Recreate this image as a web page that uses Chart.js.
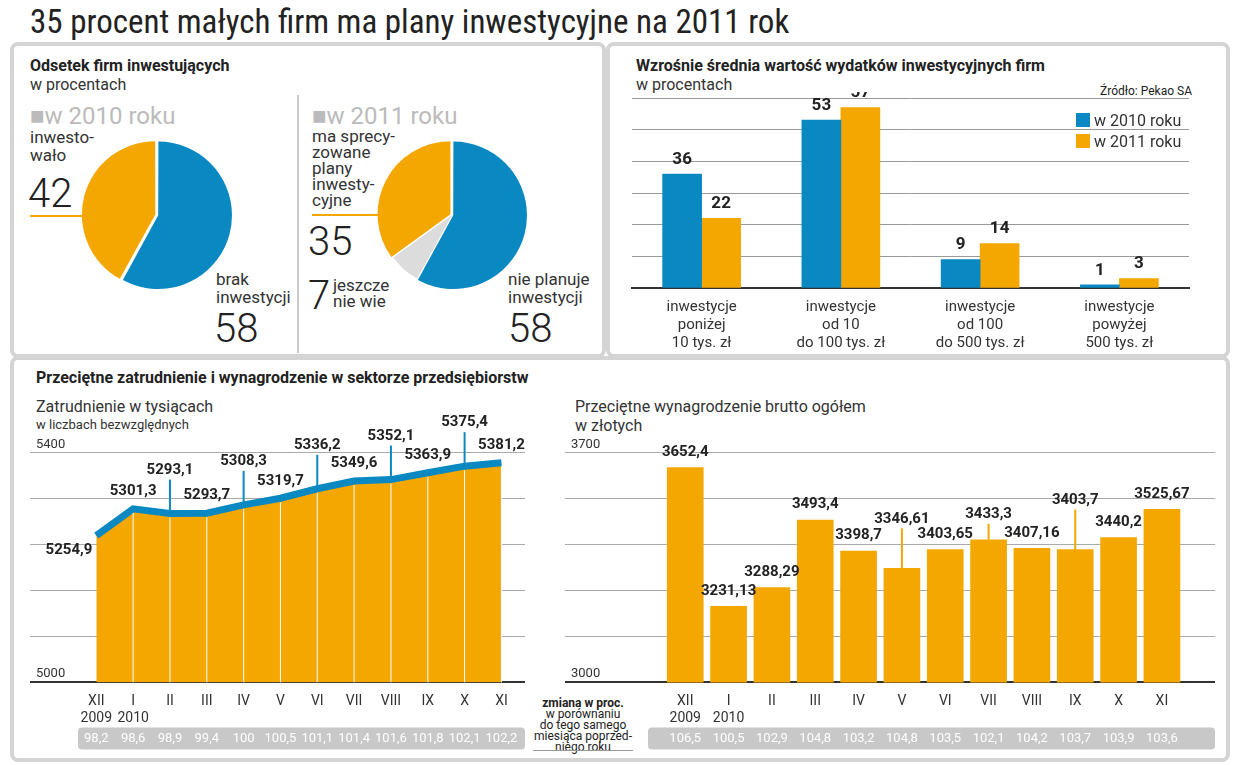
<!DOCTYPE html>
<html><head><meta charset="utf-8">
<script src="https://cdn.jsdelivr.net/npm/chart.js@4/dist/chart.umd.min.js"></script>
<style>
body{margin:0;width:1256px;height:765px;background:#fff;font-family:"Liberation Sans Narrow","DejaVu Sans Condensed","Roboto",sans-serif;color:#222;position:relative;overflow:hidden}
.a{position:absolute;white-space:nowrap}
.panel{position:absolute;border:4px solid #d4d4d4;border-radius:8px;box-sizing:border-box}
canvas{position:absolute}
.h{font-family:"Roboto","Liberation Sans",sans-serif;font-weight:bold;font-size:16px}
.s{font-family:"Roboto","Liberation Sans",sans-serif;font-size:16px;color:#333}
</style></head><body>
<div class="a" style="left:30px;top:2px;font-size:33px;font-family:'Roboto Condensed','Liberation Sans Narrow',sans-serif">35 procent małych firm ma plany inwestycyjne na 2011 rok</div>
<div class="panel" style="left:10px;top:42px;width:596px;height:316px"></div>
<div class="panel" style="left:606px;top:42px;width:624px;height:316px"></div>
<div class="panel" style="left:10px;top:356px;width:1220px;height:406px"></div>
<div style="position:absolute;left:297px;top:95px;width:2px;height:258px;background:#ccc"></div>

<div class="a h" style="left:30px;top:56px">Odsetek firm inwestujących</div>
<div class="a s" style="left:30px;top:75px">w procentach</div>
<div class="a" style="left:30px;top:102px;font-size:24px;color:#bbb;font-family:'Roboto',sans-serif">■w 2010 roku</div>
<div class="a" style="left:312px;top:102px;font-size:24px;color:#bbb;font-family:'Roboto',sans-serif">■w 2011 roku</div>
<div class="a s" style="left:30px;top:128px;font-size:17px;line-height:18px">inwesto-<br>wało</div>
<div class="a" style="left:28px;top:170px;font-size:40px;font-family:'Roboto',sans-serif;font-weight:300">42</div>
<div style="position:absolute;left:30px;top:215px;width:58px;height:2px;background:#f4a700"></div>
<div class="a s" style="left:216px;top:270px;font-size:17px;line-height:18px">brak<br>inwestycji</div>
<div class="a" style="left:214px;top:305px;font-size:40px;font-family:'Roboto',sans-serif;font-weight:300">58</div>
<div class="a s" style="left:312px;top:128px;font-size:17px;line-height:16px">ma sprecy-<br>zowane<br>plany<br>inwesty-<br>cyjne</div>
<div style="position:absolute;left:312px;top:214px;width:70px;height:2px;background:#f4a700"></div>
<div class="a" style="left:308px;top:218px;font-size:40px;font-family:'Roboto',sans-serif;font-weight:300">35</div>
<div class="a" style="left:308px;top:272px;font-size:40px;font-family:'Roboto',sans-serif;font-weight:300">7</div>
<div class="a s" style="left:333px;top:277px;font-size:17px;line-height:16px">jeszcze<br>nie wie</div>
<div class="a s" style="left:508px;top:270px;font-size:17px;line-height:18px">nie planuje<br>inwestycji</div>
<div class="a" style="left:508px;top:305px;font-size:40px;font-family:'Roboto',sans-serif;font-weight:300">58</div>

<div class="a h" style="left:636px;top:56px">Wzrośnie średnia wartość wydatków inwestycyjnych firm</div>
<div class="a s" style="left:636px;top:75px">w procentach</div>
<div class="a" style="left:1100px;top:84px;font-size:12px;font-family:'Roboto',sans-serif">Źródło: Pekao SA</div>

<div class="a h" style="left:36px;top:368px">Przeciętne zatrudnienie i wynagrodzenie w sektorze przedsiębiorstw</div>
<div class="a s" style="left:36px;top:397px">Zatrudnienie w tysiącach</div>
<div class="a s" style="left:36px;top:417px;font-size:13px">w liczbach bezwzględnych</div>
<div class="a s" style="left:575px;top:397px">Przeciętne wynagrodzenie brutto ogółem</div>
<div class="a s" style="left:575px;top:416px">w złotych</div>
<div class="a" style="left:527px;top:698px;width:112px;text-align:center;font-size:12px;line-height:11px;font-family:'Roboto',sans-serif"><b>zmiana w proc.</b><br>w porównaniu<br>do tego samego<br>miesiąca poprzed-<br>niego roku</div>
<div style="position:absolute;left:533px;top:750px;width:100px;height:1px;background:#999"></div>

<canvas id="p1" style="left:77px;top:135px;width:160px;height:160px" width="160" height="160"></canvas>
<canvas id="p2" style="left:372px;top:135px;width:160px;height:160px" width="160" height="160"></canvas>
<canvas id="b1" style="left:628px;top:92px;width:565px;height:262px" width="565" height="262"></canvas>
<div class="a s" style="left:1076px;top:111px"><span style="display:inline-block;width:14px;height:14px;background:#0a88c2;vertical-align:-1px"></span> w 2010 roku</div>
<div class="a s" style="left:1076px;top:132px"><span style="display:inline-block;width:14px;height:14px;background:#f4a700;vertical-align:-1px"></span> w 2011 roku</div>
<canvas id="l1" style="left:30px;top:400px;width:495px;height:360px" width="495" height="360"></canvas>
<canvas id="b2" style="left:565px;top:400px;width:650px;height:360px" width="650" height="360"></canvas>
<script>
const BLUE='#0a88c2',ORANGE='#f4a700',GREY='#dcdcdc';
const pie2010=[58,42];
const pie2011=[58,7,35];
const invCats=[['inwestycje','poniżej','10 tys. zł'],['inwestycje','od 10','do 100 tys. zł'],['inwestycje','od 100','do 500 tys. zł'],['inwestycje','powyżej','500 tys. zł']];
const inv2010=[36,53,9,1];
const inv2011=[22,57,14,3];
const months=[['XII','2009'],['I','2010'],['II'],['III'],['IV'],['V'],['VI'],['VII'],['VIII'],['IX'],['X'],['XI']];
const employment=[5254.9,5301.3,5293.1,5293.7,5308.3,5319.7,5336.2,5349.6,5352.1,5363.9,5375.4,5381.2];
const employmentChange=[98.2,98.6,98.9,99.4,100,100.5,101.1,101.4,101.6,101.8,102.1,102.2];
const wages=[3652.4,3231.13,3288.29,3493.4,3398.7,3346.61,3403.65,3433.3,3407.16,3403.7,3440.2,3525.67];
const wagesChange=[106.5,100.5,102.9,104.8,103.2,104.8,103.5,102.1,104.2,103.7,103.9,103.6];
Chart.defaults.animation=false;
Chart.defaults.responsive=false;
Chart.defaults.font.family="Roboto, 'Liberation Sans', sans-serif";
const fmt=v=>String(v).replace('.',',');

new Chart(p1,{type:'pie',data:{datasets:[{data:pie2010,backgroundColor:[BLUE,ORANGE],borderWidth:0,offset:[5,7]}]},options:{plugins:{legend:{display:false},tooltip:{enabled:false}},layout:{padding:4}}});
new Chart(p2,{type:'pie',data:{datasets:[{data:pie2011,backgroundColor:[BLUE,GREY,ORANGE],borderWidth:0,offset:[5,0,7]}]},options:{plugins:{legend:{display:false},tooltip:{enabled:false}},layout:{padding:4}}});

const barVals={id:'barVals',afterDatasetsDraw(c){const x=c.ctx;x.save();x.font='bold 17px Roboto, sans-serif';x.fillStyle='#222';x.textAlign='center';x.textBaseline='bottom';
 c.data.datasets.forEach((d,i)=>c.getDatasetMeta(i).data.forEach((e,j)=>x.fillText(d.data[j],e.x,e.y-6)));x.restore();}};
new Chart(b1,{type:'bar',data:{labels:invCats,datasets:[{data:inv2010,backgroundColor:BLUE},{data:inv2011,backgroundColor:ORANGE}]},
 options:{plugins:{legend:{display:false},tooltip:{enabled:false}},layout:{padding:{left:4,right:4,top:6}},
 datasets:{bar:{barThickness:39,categoryPercentage:0.69,barPercentage:0.95}},
 scales:{x:{grid:{display:false},border:{color:'#333',width:2},ticks:{color:'#333',font:{size:15},padding:2}},
 y:{min:0,max:60,ticks:{display:false,stepSize:10},grid:{color:'#999',drawTicks:false},border:{display:false}}}},plugins:[barVals]});

function bottomStrip(c,vals,x0){const x=c.ctx,a=c.chartArea,s=c.scales.x;x.save();x.fillStyle='#c8c8c8';
 const y=a.bottom+45;x.beginPath();x.roundRect(x0,y,a.right-x0,22,4);x.fill();
 x.fillStyle='#fff';x.font='13px Roboto, sans-serif';x.textAlign='center';x.textBaseline='middle';
 vals.forEach((v,i)=>x.fillText(fmt(v),s.getPixelForValue(i),y+11));x.restore();}
function yLabels(c,lo,hi){const x=c.ctx,a=c.chartArea;x.save();x.fillStyle='#333';x.font='13px Roboto, sans-serif';x.textAlign='left';x.textBaseline='bottom';
 x.fillText(hi,a.left+6,a.top-1);x.fillText(lo,a.left+6,a.bottom-2);x.restore();}

const lineDeco={id:'lineDeco',afterDatasetsDraw(c){const x=c.ctx,a=c.chartArea,m=c.getDatasetMeta(0).data;x.save();
 x.strokeStyle='#fff';x.lineWidth=1;m.forEach((p,i)=>{if(i>0){x.beginPath();x.moveTo(p.x,p.y+4);x.lineTo(p.x,a.bottom);x.stroke();}});
 x.font='bold 15px Roboto, sans-serif';x.fillStyle='#222';x.textAlign='center';x.textBaseline='bottom';
 m.forEach((p,i)=>{const t=fmt(employment[i]);
  if(i==0){x.textAlign='right';x.fillText(t,p.x-4,p.y+22);x.textAlign='center';}
  else if(i%2==0){x.strokeStyle=BLUE;x.lineWidth=2;x.beginPath();x.moveTo(p.x,p.y);x.lineTo(p.x,p.y-34);x.stroke();x.fillText(t,p.x,p.y-36);}
  else x.fillText(t,p.x,p.y-10);});
 yLabels(c,5000,5400);bottomStrip(c,employmentChange,48);x.restore();}};
new Chart(l1,{type:'line',data:{datasets:[{data:employment.map((v,i)=>({x:i,y:v})),borderColor:BLUE,borderWidth:7,backgroundColor:ORANGE,fill:'origin',pointRadius:0,tension:0}]},
 options:{plugins:{legend:{display:false},tooltip:{enabled:false}},layout:{padding:{top:52,bottom:30}},
 scales:{x:{type:'linear',min:-1.8,max:11.64,grid:{display:false},border:{color:'#333',width:2},
  afterBuildTicks:ax=>{ax.ticks=months.map((m,i)=>({value:i}));},ticks:{autoSkip:false,maxRotation:0,color:'#333',font:{size:14},callback:v=>months[v]}},
 y:{min:5000,max:5400,ticks:{display:false,stepSize:80},grid:{color:'#aaa',drawTicks:false},border:{display:false}}}},plugins:[lineDeco]});

const wageDeco={id:'wageDeco',afterDatasetsDraw(c){const x=c.ctx,a=c.chartArea,m=c.getDatasetMeta(0).data;x.save();
 x.font='bold 15px Roboto, sans-serif';x.fillStyle='#222';x.textAlign='center';x.textBaseline='bottom';
 m.forEach((p,i)=>{const t=fmt(wages[i]);
  if(i==5||i==9){x.strokeStyle=ORANGE;x.lineWidth=2;x.beginPath();x.moveTo(p.x,p.y+30);x.lineTo(p.x,p.y-40);x.stroke();x.fillText(t,p.x,p.y-42);}
  else if(i==7){x.strokeStyle=ORANGE;x.lineWidth=2;x.beginPath();x.moveTo(p.x,p.y);x.lineTo(p.x,p.y-16);x.stroke();x.fillText(t,p.x,p.y-18);}
  else x.fillText(t,p.x,p.y-8);});
 yLabels(c,3000,3700);bottomStrip(c,wagesChange,83);x.restore();}};
new Chart(b2,{type:'bar',data:{datasets:[{data:wages.map((v,i)=>({x:i,y:v})),backgroundColor:ORANGE,barThickness:36}]},
 options:{plugins:{legend:{display:false},tooltip:{enabled:false}},layout:{padding:{top:52,bottom:30}},
 scales:{x:{type:'linear',min:-2.15,max:11.6,grid:{display:false},border:{color:'#333',width:2},
  afterBuildTicks:ax=>{ax.ticks=months.map((m,i)=>({value:i}));},ticks:{autoSkip:false,maxRotation:0,color:'#333',font:{size:14},callback:v=>months[v]}},
 y:{min:3000,max:3700,ticks:{display:false,stepSize:140},grid:{color:'#aaa',drawTicks:false},border:{display:false}}}},plugins:[wageDeco]});
</script></body></html>
